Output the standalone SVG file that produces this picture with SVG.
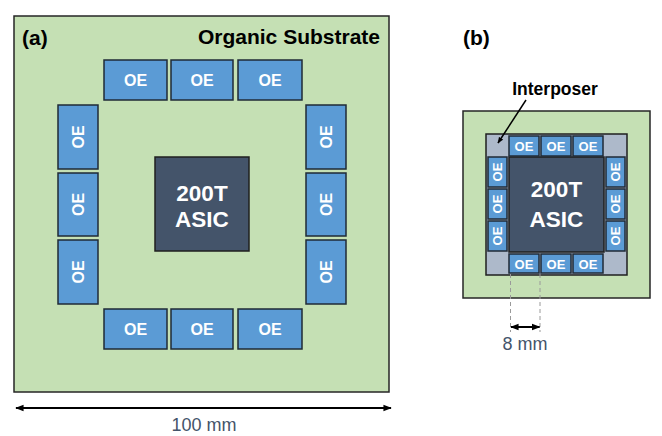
<svg xmlns="http://www.w3.org/2000/svg" width="662" height="436" viewBox="0 0 662 436">
<defs>
<style>
.sub{fill:#C5E0B4;stroke:#262626;stroke-width:1.5}
.oe{fill:#5B9BD5;stroke:#1F2A36;stroke-width:1.5}
.asic{fill:#44546A;stroke:#1F1F1F;stroke-width:1.5}
.ip{fill:#ADB9CA;stroke:#1F1F1F;stroke-width:1.5}
.oet{font-family:"Liberation Sans",Arial,sans-serif;font-weight:bold;font-size:16px;fill:#fff;text-anchor:middle}
.oes{font-family:"Liberation Sans",Arial,sans-serif;font-weight:bold;font-size:13px;fill:#fff;text-anchor:middle}
.at{font-family:"Liberation Sans",Arial,sans-serif;font-weight:bold;font-size:22.5px;fill:#fff;text-anchor:middle}
.lbl{font-family:"Liberation Sans",Arial,sans-serif;font-weight:bold;font-size:21px;fill:#000}
.ipl{font-family:"Liberation Sans",Arial,sans-serif;font-weight:bold;font-size:17.5px;fill:#000;text-anchor:middle}
.dim{font-family:"Liberation Sans",Arial,sans-serif;font-size:18px;fill:#44546A;text-anchor:middle}
.arr{stroke:#000;stroke-width:2;fill:none}
.dash{stroke:#9A9A9A;stroke-width:1;stroke-dasharray:4 3;fill:none}
</style>
<marker id="ah" viewBox="0 0 10 8" refX="9" refY="4" markerWidth="4.2" markerHeight="3.6" orient="auto-start-reverse" markerUnits="strokeWidth">
<path d="M0,0 L10,4 L0,8 Z" fill="#000"/>
</marker>
</defs>
<rect width="662" height="436" fill="#fff"/>

<!-- Panel (a) -->
<g id="substrate-a">
<rect class="sub" x="14" y="16" width="375" height="376"/>
<text class="lbl" x="22" y="45">(a)</text>
<text class="lbl" x="380" y="44" text-anchor="end">Organic Substrate</text>
</g>
<g id="asic-a">
<rect class="asic" x="155" y="157" width="94" height="94"/>
<text class="at" x="202" y="201">200T</text>
<text class="at" x="202" y="227">ASIC</text>
</g>
<g id="oe-a-top">
<rect class="oe" x="104" y="60" width="63" height="40"/><text class="oet" x="135.5" y="86">OE</text>
<rect class="oe" x="171" y="60" width="62" height="40"/><text class="oet" x="202" y="86">OE</text>
<rect class="oe" x="238" y="60" width="64" height="40"/><text class="oet" x="270" y="86">OE</text>
</g>
<g id="oe-a-bottom">
<rect class="oe" x="104" y="309" width="63" height="40"/><text class="oet" x="135.5" y="335">OE</text>
<rect class="oe" x="171" y="309" width="62" height="40"/><text class="oet" x="202" y="335">OE</text>
<rect class="oe" x="238" y="309" width="64" height="40"/><text class="oet" x="270" y="335">OE</text>
</g>
<g id="oe-a-left">
<rect class="oe" x="58" y="105" width="40" height="64"/><text class="oet" transform="translate(84,137) rotate(-90)">OE</text>
<rect class="oe" x="58" y="173" width="40" height="63"/><text class="oet" transform="translate(84,204.5) rotate(-90)">OE</text>
<rect class="oe" x="58" y="240" width="40" height="64"/><text class="oet" transform="translate(84,272) rotate(-90)">OE</text>
</g>
<g id="oe-a-right">
<rect class="oe" x="306" y="105" width="40" height="64"/><text class="oet" transform="translate(332,137) rotate(-90)">OE</text>
<rect class="oe" x="306" y="173" width="40" height="63"/><text class="oet" transform="translate(332,204.5) rotate(-90)">OE</text>
<rect class="oe" x="306" y="240" width="40" height="64"/><text class="oet" transform="translate(332,272) rotate(-90)">OE</text>
</g>

<!-- Panel (b) -->
<g id="substrate-b">
<rect class="sub" x="463" y="111" width="187" height="187"/>
<text class="lbl" x="463" y="45">(b)</text>
</g>
<g id="interposer-b">
<rect class="ip" x="486" y="134" width="141" height="141"/>
<text class="ipl" x="555" y="95">Interposer</text>
</g>
<g id="asic-b">
<rect class="asic" x="509" y="157" width="95" height="95"/>
<text class="at" x="556.5" y="197">200T</text>
<text class="at" x="556.5" y="227">ASIC</text>
</g>
<g id="oe-b-top">
<rect class="oe" x="509" y="136" width="30" height="20"/><text class="oes" x="524" y="151">OE</text>
<rect class="oe" x="541" y="136" width="30" height="20"/><text class="oes" x="556" y="151">OE</text>
<rect class="oe" x="573" y="136" width="30" height="20"/><text class="oes" x="588" y="151">OE</text>
</g>
<g id="oe-b-bottom">
<rect class="oe" x="509" y="254" width="30" height="19"/><text class="oes" x="524" y="268.5">OE</text>
<rect class="oe" x="541" y="254" width="30" height="19"/><text class="oes" x="556" y="268.5">OE</text>
<rect class="oe" x="573" y="254" width="30" height="19"/><text class="oes" x="588" y="268.5">OE</text>
</g>
<g id="oe-b-left">
<rect class="oe" x="488" y="157" width="19" height="30"/><text class="oes" transform="translate(502,172) rotate(-90)">OE</text>
<rect class="oe" x="488" y="189" width="19" height="30"/><text class="oes" transform="translate(502,204) rotate(-90)">OE</text>
<rect class="oe" x="488" y="221" width="19" height="30"/><text class="oes" transform="translate(502,236) rotate(-90)">OE</text>
</g>
<g id="oe-b-right">
<rect class="oe" x="606" y="157" width="19" height="30"/><text class="oes" transform="translate(620,172) rotate(-90)">OE</text>
<rect class="oe" x="606" y="189" width="19" height="30"/><text class="oes" transform="translate(620,204) rotate(-90)">OE</text>
<rect class="oe" x="606" y="221" width="19" height="30"/><text class="oes" transform="translate(620,236) rotate(-90)">OE</text>
</g>

<g id="connectors">
<line class="arr" x1="16" y1="408" x2="391" y2="408" marker-start="url(#ah)" marker-end="url(#ah)"/>
<text class="dim" x="204" y="431">100 mm</text>
<line class="dash" x1="510.5" y1="274" x2="510.5" y2="332"/>
<line class="dash" x1="540" y1="274" x2="540" y2="332"/>
<line class="arr" x1="511" y1="327" x2="539.5" y2="327" marker-start="url(#ah)" marker-end="url(#ah)"/>
<text class="dim" x="525" y="350">8 mm</text>
<line class="arr" x1="526" y1="100" x2="498" y2="143" style="stroke-width:1.5" marker-end="url(#ah)"/>
</g>
</svg>
